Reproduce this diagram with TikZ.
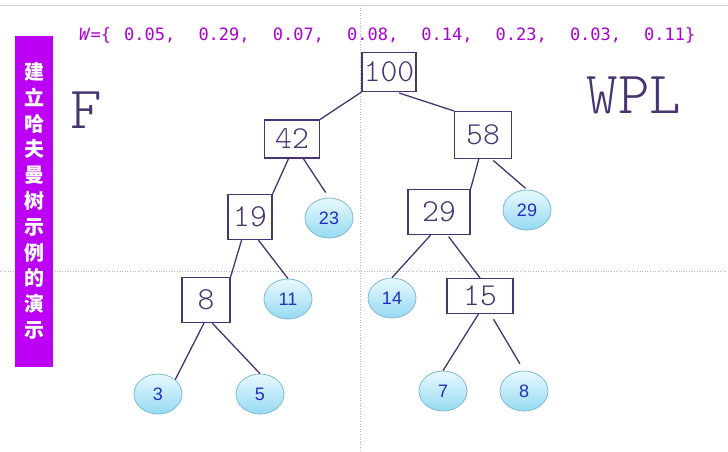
\documentclass[tikz,border=0pt]{standalone}
\usepackage{fontspec}
\setmainfont{Liberation Sans}
\newfontfamily\cjkfont{Noto Sans CJK SC}
\newfontfamily\wfont{DejaVu Sans Mono}
\usetikzlibrary{shapes.geometric,positioning}

\definecolor{bannerpurple}{RGB}{188,0,245}
\definecolor{wpurple}{RGB}{170,0,210}
\definecolor{ink}{RGB}{72,52,112}
\definecolor{leaftop}{RGB}{232,249,255}
\definecolor{leafbot}{RGB}{150,218,242}
\definecolor{leafedge}{RGB}{125,185,210}
\definecolor{leaftext}{RGB}{35,45,190}
\definecolor{guide}{RGB}{185,185,185}

\newcommand{\handfont}{\ttfamily\fontseries{l}\selectfont}

\begin{document}
\begin{tikzpicture}[x=1pt, y=-1pt,
    sumbox/.style={draw=ink, line width=1.2pt, rectangle, inner sep=1pt, text=ink, font=\handfont\fontsize{32}{32}\selectfont},
    leaf/.style={ellipse, draw=leafedge, line width=0.8pt, top color=leaftop, bottom color=leafbot, minimum width=48pt, minimum height=40pt, inner sep=0pt, text=leaftext, font=\fontsize{18}{18}\selectfont},
    edge/.style={draw=ink, line width=1.3pt},
    guideline/.style={draw=guide, dotted, line width=0.6pt},
    hand/.style={text=ink, font=\handfont\fontsize{60}{60}\selectfont},
    weight/.style={anchor=west, inner sep=0pt, text=wpurple, font=\wfont\fontsize{17}{17}\selectfont},
]
\useasboundingbox (0,0) rectangle (728,451);
\fill[white] (0,0) rectangle (728,451);

% guides
\draw[guide!60, line width=1pt] (0,5) -- (728,5);
\draw[guideline] (360,5) -- (360,451);
\draw[guideline] (0,271) -- (728,271);

% title banner
\fill[bannerpurple] (15,36) rectangle (53,367);
\node[text=white, align=center, font=\cjkfont\bfseries\fontsize{20}{25.8}\selectfont] (title) at (34,201)
  {建\\立\\哈\\夫\\曼\\树\\示\\例\\的\\演\\示};

% weights
\node[weight] (wset) at (79,35) {\textit{W}=\{};
\foreach \v [count=\i from 0] in {0.05, 0.29, 0.07, 0.08, 0.14, 0.23, 0.03} {
  \node[weight] (w\i) at (124+74.3*\i,35) {\v,};
}
\node[weight] (w7) at (644,35) {0.11\}};

% handwritten notes
\node[hand] (fnote) at (86,110) {F};
\node[hand] (wpl) at (634,95) {WPL};

% internal nodes
\node[sumbox, minimum width=54pt, minimum height=39pt] (n100) at (389,72) {100};
\node[sumbox, minimum width=55pt, minimum height=38pt] (n42) at (292,139) {42};
\node[sumbox, minimum width=57pt, minimum height=47pt] (n58) at (483,135) {58};
\node[sumbox, minimum width=44pt, minimum height=45pt] (n19) at (250,217) {19};
\node[sumbox, minimum width=62pt, minimum height=45pt] (n29) at (439,212) {29};
\node[sumbox, minimum width=48pt, minimum height=45pt] (n8) at (206,300) {8};
\node[sumbox, minimum width=66pt, minimum height=35pt] (n15) at (480,296) {15};

% leaves
\node[leaf] (l23) at (329,218) {23};
\node[leaf] (l29) at (527,210) {29};
\node[leaf] (l11) at (288,299) {11};
\node[leaf] (l14) at (392,298) {14};
\node[leaf] (l3) at (158,394) {3};
\node[leaf] (l5) at (260,394) {5};
\node[leaf] (l7) at (443,391) {7};
\node[leaf] (l8) at (524,391) {8};

% branches
\draw[edge] (n100.south west) -- (n42.north east);
\draw[edge, shorten <=3pt] (n100.-70) -- (n58.north west);
\draw[edge] (n42.-100) -- (n19.north east);
\draw[edge, shorten >=6pt] (n42.-60) -- (l23.north);
\draw[edge] (n58.-100) -- (n29.north east);
\draw[edge, shorten <=2pt, shorten >=2pt] (n58.-70) -- (l29.north);
\draw[edge] (n19.-110) -- (n8.north east);
\draw[edge] (n19.-70) -- (l11.north);
\draw[edge] (n29.-110) -- (l14.north);
\draw[edge, shorten <=2pt] (n29.-70) -- (n15.north);
\draw[edge] (n8.-95) -- (l3.north east);
\draw[edge] (n8.-75) -- (l5.north);
\draw[edge] (n15.-95) -- (l7.north);
\draw[edge, shorten <=6pt, shorten >=8pt] (n15.-60) -- (l8.north);

\end{tikzpicture}
\end{document}
